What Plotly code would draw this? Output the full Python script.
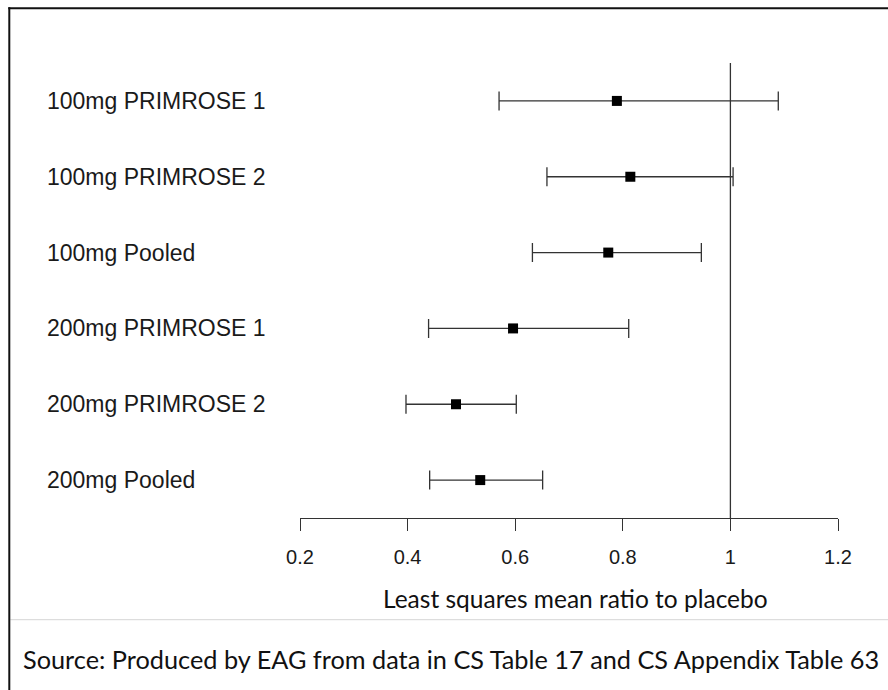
import plotly.graph_objects as go

labels = ["100mg PRIMROSE 1", "100mg PRIMROSE 2", "100mg Pooled",
          "200mg PRIMROSE 1", "200mg PRIMROSE 2", "200mg Pooled"]
estimate = [0.789, 0.814, 0.773, 0.596, 0.490, 0.535]
ci_low = [0.570, 0.659, 0.632, 0.439, 0.397, 0.441]
ci_high = [1.089, 1.005, 0.946, 0.811, 0.602, 0.651]
tick_vals = [0.2, 0.4, 0.6, 0.8, 1.0, 1.2]
tick_text = ["0.2", "0.4", "0.6", "0.8", "1", "1.2"]
x_title = "Least squares mean ratio to placebo"
source = "Source: Produced by EAG from data in CS Table 17 and CS Appendix Table 63"

n = len(labels)
ypos = [n - i for i in range(n)]

W, H = 888, 690
L, R, T, B = 299.7, 888 - 837.7, 62.7, 690 - 518.3
pw = W - L - R
ph = H - T - B

def px_to_paper_x(px):
    return (px - L) / pw

def px_to_paper_y(py):
    return (H - B - py) / ph

fig = go.Figure()
fig.add_trace(go.Scatter(
    x=estimate, y=ypos, mode="markers",
    marker=dict(symbol="square", size=10, color="black", line=dict(width=0)),
    error_x=dict(type="data", symmetric=False,
                 array=[h - e for h, e in zip(ci_high, estimate)],
                 arrayminus=[e - l for e, l in zip(estimate, ci_low)],
                 color="#333333", thickness=1.3, width=9.5),
    showlegend=False, hoverinfo="skip",
))

annotations = []
for lab, yv in zip(labels, ypos):
    annotations.append(dict(text=lab, xref="paper", yref="y",
                            x=px_to_paper_x(45), y=yv, xanchor="left", yanchor="middle",
                            showarrow=False,
                            font=dict(family="Liberation Sans, Arial, sans-serif", size=23, color="#1a1a1a")))
annotations.append(dict(text=x_title, xref="paper", yref="paper",
                        x=px_to_paper_x(575), y=px_to_paper_y(599), xanchor="center", yanchor="middle",
                        showarrow=False,
                        font=dict(family="Lato, sans-serif", size=24.5, color="#111111")))
annotations.append(dict(text=source, xref="paper", yref="paper",
                        x=px_to_paper_x(451), y=px_to_paper_y(659), xanchor="center", yanchor="middle",
                        showarrow=False,
                        font=dict(family="Lato, sans-serif", size=25.3, color="#111111")))

shapes = [
    # reference line at 1
    dict(type="line", xref="x", yref="y", x0=1, x1=1, y0=0.5, y1=n + 0.5,
         line=dict(color="#333333", width=1.3), layer="below"),
    # separator line
    dict(type="line", xref="paper", yref="paper",
         x0=px_to_paper_x(10), x1=px_to_paper_x(890), y0=px_to_paper_y(620), y1=px_to_paper_y(620),
         line=dict(color="#dddddd", width=1.2)),
    # outer border: top and left
    dict(type="line", xref="paper", yref="paper",
         x0=px_to_paper_x(8), x1=px_to_paper_x(890), y0=px_to_paper_y(8), y1=px_to_paper_y(8),
         line=dict(color="#111111", width=2)),
    dict(type="line", xref="paper", yref="paper",
         x0=px_to_paper_x(9), x1=px_to_paper_x(9), y0=px_to_paper_y(7), y1=px_to_paper_y(692),
         line=dict(color="#111111", width=2)),
]

fig.update_layout(
    width=W, height=H,
    margin=dict(l=L, r=R, t=T, b=B, pad=0),
    paper_bgcolor="white", plot_bgcolor="white",
    xaxis=dict(range=[0.2, 1.2], tickvals=tick_vals, ticktext=tick_text,
               showgrid=False, zeroline=False, showline=True, linecolor="#333333", linewidth=1.3,
               ticks="outside", ticklen=12, tickwidth=1.3, tickcolor="#333333",
               ticklabelstandoff=9,
               tickfont=dict(family="Liberation Sans, Arial, sans-serif", size=20, color="#1a1a1a")),
    yaxis=dict(range=[0.5, n + 0.5], visible=False, showgrid=False, zeroline=False),
    annotations=annotations,
    shapes=shapes,
)

fig.write_html("out.html", config={"displayModeBar": False},
               post_script="document.body.style.margin='0';document.body.style.padding='0';")
